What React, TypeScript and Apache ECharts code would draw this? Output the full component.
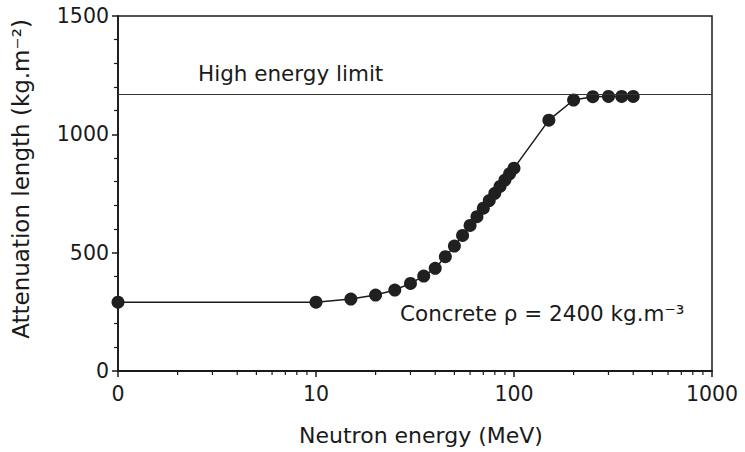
import React, { useEffect, useRef } from "react";
import * as echarts from "echarts";

const energies = [1, 10, 15, 20, 25, 30, 35, 40, 45, 50, 55, 60, 65, 70, 75, 80, 85, 90, 95, 100, 150, 200, 250, 300, 350, 400];
const attenuation = [291, 291, 304, 321, 342, 370, 401, 434, 483, 528, 573, 615, 652, 688, 720, 751, 780, 807, 833, 857, 1060, 1145, 1159, 1160, 1160, 1160];
const highEnergyLimit = 1170;
const xMinorTicks = [2, 3, 4, 5, 6, 7, 8, 9, 20, 30, 40, 50, 60, 70, 80, 90, 200, 300, 400, 500, 600, 700, 800, 900];
const xTickLabelZero = "0";
const xTitle = "Neutron energy (MeV)";
const yTitle = "Attenuation length (kg.m⁻²)";
const limitLabel = "High energy limit";
const materialLabel = "Concrete ρ = 2400 kg.m⁻³";

const FONT = "DejaVu Sans";
const INK = "#1a1a1a";

export default function App() {
  const ref = useRef<HTMLDivElement>(null);
  useEffect(() => {
    if (!ref.current) return;
    const chart = echarts.init(ref.current, undefined, { renderer: "svg" });
    chart.setOption({
      animation: false,
      backgroundColor: "#ffffff",
      grid: {
        left: 118,
        right: 33,
        top: 16,
        bottom: 81,
        show: true,
        borderColor: INK,
        borderWidth: 1.5,
        backgroundColor: "transparent",
      },
      xAxis: {
        type: "log",
        logBase: 10,
        min: 1,
        max: 1000,
        axisLine: { show: true, lineStyle: { color: INK, width: 1.8 } },
        axisTick: { show: true, inside: false, length: 6, lineStyle: { color: INK, width: 1.5 } },
        minorTick: { show: false },
        splitLine: { show: false },
        axisLabel: {
          color: INK,
          fontFamily: FONT,
          fontSize: 20.5,
          margin: 12,
          formatter: (v: number) => (v === 1 ? xTickLabelZero : String(Math.round(v))),
        },
      },
      yAxis: {
        type: "value",
        min: 0,
        max: 1500,
        interval: 500,
        axisLine: { show: true, lineStyle: { color: INK, width: 1.8 } },
        axisTick: { show: true, inside: false, length: 6, lineStyle: { color: INK, width: 1.5 } },
        minorTick: { show: true, splitNumber: 5, length: 4, lineStyle: { color: INK, width: 1.2 } },
        splitLine: { show: false },
        axisLabel: {
          color: INK,
          fontFamily: FONT,
          fontSize: 20.5,
          margin: 9,
          formatter: (v: number) => String(v),
        },
      },
      series: [
        {
          type: "line",
          data: energies.map((e, i) => [e, attenuation[i]]),
          symbol: "circle",
          symbolSize: 13,
          itemStyle: { color: "#202020" },
          lineStyle: { color: INK, width: 1.5 },
          markLine: {
            silent: true,
            symbol: ["none", "none"],
            label: { show: false },
            lineStyle: { color: "#333", width: 1, type: "solid" },
            data: [{ yAxis: highEnergyLimit }],
          },
          z: 3,
        },
        {
          type: "custom",
          clip: false,
          silent: true,
          data: xMinorTicks.map((v) => [v, 0]),
          renderItem: (_params: any, api: any) => {
            const p = api.coord([api.value(0), 0]);
            return {
              type: "line",
              shape: { x1: p[0], y1: p[1], x2: p[0], y2: p[1] + 4 },
              style: { stroke: INK, lineWidth: 1.2 },
            };
          },
          z: 2,
        },
      ],
      graphic: [
        {
          type: "text",
          left: 198,
          top: 62,
          style: { text: limitLabel, font: `21.5px "${FONT}"`, fill: INK },
        },
        {
          type: "text",
          left: 400,
          top: 302,
          style: { text: materialLabel, font: `21.5px "${FONT}"`, fill: INK },
        },
        {
          type: "text",
          x: 421,
          y: 435,
          style: { text: xTitle, font: `22px "${FONT}"`, fill: INK, align: "center", verticalAlign: "middle" },
        },
        {
          type: "text",
          x: 21,
          y: 179,
          rotation: Math.PI / 2,
          style: { text: yTitle, font: `23px "${FONT}"`, fill: INK, align: "center", verticalAlign: "middle" },
        },
      ],
    });
    return () => chart.dispose();
  }, []);
  return <div ref={ref} style={{ position: "fixed", left: 0, top: 0, width: 745, height: 452 }} />;
}
